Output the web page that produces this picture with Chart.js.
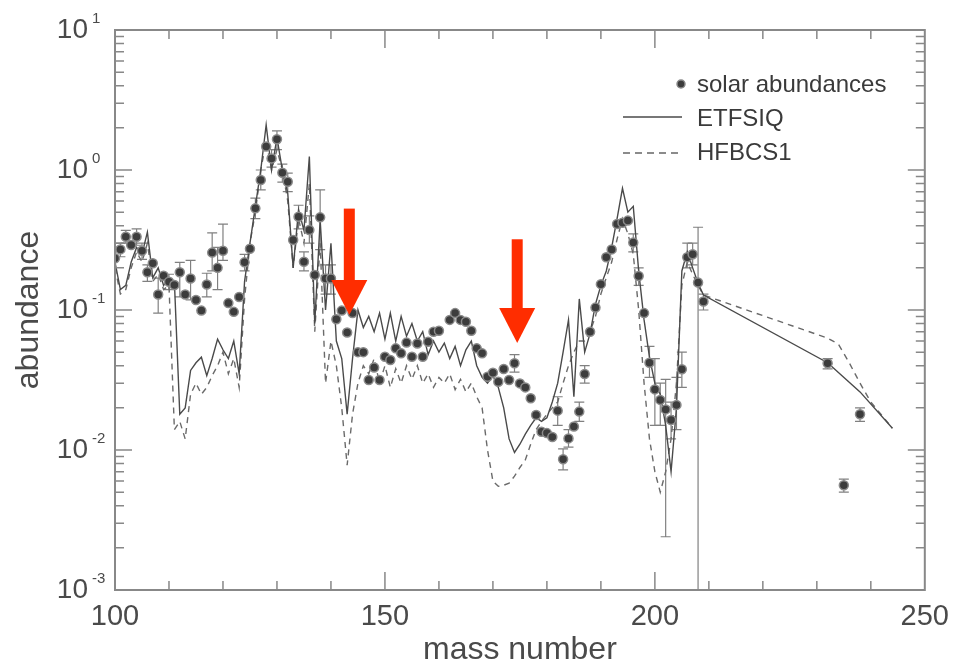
<!DOCTYPE html>
<html>
<head>
<meta charset="utf-8">
<script src="https://cdn.jsdelivr.net/npm/chart.js@4"></script>
<style>
  body { margin: 0; background: #fff; }
  canvas { display: block; }
</style>
</head>
<body>
<canvas id="chart" width="959" height="671"></canvas>
<script>
// solar r-abundances (points)
const massSolar = [100, 101, 102, 103, 104, 105, 106, 107, 108, 109, 110, 111, 112, 113, 114, 115, 116, 117, 118, 119,
    120, 121, 122, 123, 124, 125, 126, 127, 128, 129, 130, 131, 132, 133, 134, 135, 136, 137, 138, 139,
    140, 141, 142, 143, 144, 145, 146, 147, 148, 149, 150, 151, 152, 153, 154, 155, 156, 157, 158, 159,
    160, 162, 163, 164, 165, 166, 167, 168, 169, 170, 171, 172, 173, 174, 175, 176, 177, 178, 179, 180,
    181, 182, 183, 184, 185, 186, 187, 188, 189, 190, 191, 192, 193, 194, 195, 196, 197, 198, 199, 200,
    201, 202, 203, 204, 205, 206, 207, 208, 209, 232, 235, 238];
const solar = [0.234, 0.271, 0.334, 0.291, 0.334, 0.265, 0.186, 0.216, 0.129, 0.176, 0.159, 0.151, 0.186, 0.129, 0.168, 0.118, 0.099, 0.152, 0.257, 0.2,
    0.265, 0.112, 0.097, 0.124, 0.219, 0.274, 0.532, 0.849, 1.47, 1.21, 1.66, 0.956, 0.825, 0.316, 0.464, 0.221, 0.373, 0.178, 0.459, 0.168,
    0.168, 0.086, 0.099, 0.069, 0.095, 0.05, 0.05, 0.0316, 0.0388, 0.0316, 0.0464, 0.044, 0.0532, 0.049, 0.0585, 0.0464, 0.0577, 0.0464, 0.0594, 0.07,
    0.071, 0.085, 0.095, 0.085, 0.0825, 0.071, 0.0532, 0.049, 0.0334, 0.0357, 0.0307, 0.0379, 0.0316, 0.0416, 0.0299, 0.028, 0.0234, 0.0178, 0.0135, 0.0132,
    0.0124, 0.0191, 0.0086, 0.0121, 0.0147, 0.0188, 0.0349, 0.07, 0.104, 0.153, 0.238, 0.271, 0.411, 0.42, 0.435, 0.303, 0.175, 0.095, 0.042, 0.0271,
    0.0228, 0.0195, 0.0164, 0.021, 0.0377, 0.238, 0.25, 0.157, 0.115, 0.0416, 0.0056, 0.018];

// error bars on the solar points
const errMass = [101, 102, 104, 105, 106, 108, 110, 112, 114, 117, 118, 119, 120, 124, 126, 127, 129, 130, 131, 132, 134, 135, 136, 138, 139, 140,
    174, 182, 183, 184, 186, 187, 196, 197, 199, 200, 201, 202, 203, 204, 205, 206, 207, 208, 209, 232, 235, 238];
const errLow  = [0.24, 0.3, 0.29, 0.23, 0.16, 0.095, 0.14, 0.124, 0.118, 0.124, 0.19, 0.14, 0.226, 0.19, 0.45, 0.72, 1.05, 1.4, 0.82, 0.7, 0.38, 0.19, 0.3, 0.27, 0.13, 0.13,
    0.036, 0.015, 0.0072, 0.0105, 0.016, 0.03, 0.26, 0.15, 0.033, 0.015, 0.015, 0.0024, 0.012, 0.014, 0.028, 0.2, 0.21, 0.0001, 0.1, 0.038, 0.005, 0.016];
const errHigh = [0.3, 0.37, 0.38, 0.3, 0.21, 0.169, 0.18, 0.219, 0.226, 0.183, 0.355, 0.28, 0.411, 0.25, 0.63, 1.0, 1.4, 1.9, 1.1, 0.95, 0.56, 0.26, 0.47, 0.72, 0.21, 0.21,
    0.048, 0.024, 0.0102, 0.014, 0.022, 0.04, 0.35, 0.2, 0.055, 0.045, 0.03, 0.032, 0.022, 0.033, 0.05, 0.3, 0.3, 0.39, 0.13, 0.045, 0.0062, 0.02];

// ETFSIQ (solid)
const massEtfsiq = [100, 101, 102, 103, 104, 105, 106, 107, 108, 109, 110, 111, 112, 113, 114, 115, 116, 117, 118, 119,
    120, 121, 122, 123, 124, 125, 126, 127, 128, 129, 130, 131, 132, 133, 134, 135, 136, 137, 138, 139,
    140, 141, 142, 143, 144, 145, 146, 147, 148, 149, 150, 151, 152, 153, 154, 155, 156, 157, 158, 159,
    160, 161, 162, 163, 164, 165, 166, 167, 168, 169, 170, 171, 172, 173, 174, 175, 176, 177, 178, 179,
    180, 181, 182, 183, 184, 185, 186, 187, 188, 189, 190, 191, 192, 193, 194, 195, 196, 197, 198, 199,
    200, 201, 202, 203, 204, 205, 206, 207, 208, 209, 232, 238, 244];
const etfsiq = [0.22, 0.14, 0.15, 0.22, 0.28, 0.25, 0.36, 0.17, 0.2, 0.15, 0.17, 0.16, 0.018, 0.02, 0.037, 0.042, 0.046, 0.034, 0.045, 0.062,
    0.052, 0.045, 0.06, 0.035, 0.16, 0.3, 0.55, 1.0, 2.1, 1.0, 1.7, 1.0, 0.68, 0.2, 0.52, 0.37, 1.25, 0.08, 0.44, 0.1,
    0.3, 0.06, 0.045, 0.018, 0.045, 0.1, 0.075, 0.09, 0.07, 0.095, 0.062, 0.095, 0.06, 0.09, 0.065, 0.08, 0.06, 0.07, 0.048, 0.06,
    0.05, 0.058, 0.045, 0.055, 0.04, 0.052, 0.06, 0.04, 0.033, 0.03, 0.034, 0.028, 0.02, 0.012, 0.0096, 0.011, 0.013, 0.015, 0.017, 0.016,
    0.017, 0.022, 0.03, 0.05, 0.085, 0.024, 0.12, 0.05, 0.068, 0.11, 0.15, 0.19, 0.28, 0.45, 0.74, 0.5, 0.55, 0.19, 0.085, 0.046,
    0.03, 0.025, 0.015, 0.007, 0.02, 0.19, 0.26, 0.2, 0.155, 0.128, 0.042, 0.026, 0.0143];

// HFBCS1 (dashed)
const massHfbcs = [100, 101, 102, 103, 104, 105, 106, 107, 108, 109, 110, 111, 112, 113, 114, 115, 116, 117, 118, 119,
    120, 121, 122, 123, 124, 125, 126, 127, 128, 129, 130, 131, 132, 133, 134, 135, 136, 137, 138, 139,
    140, 141, 142, 143, 144, 145, 146, 147, 148, 149, 150, 151, 152, 153, 154, 155, 156, 157, 158, 159,
    160, 161, 162, 163, 164, 165, 166, 167, 168, 169, 170, 171, 172, 173, 174, 175, 176, 177, 178, 179,
    180, 181, 182, 183, 184, 185, 186, 187, 188, 189, 190, 191, 192, 193, 194, 195, 196, 197, 198, 199,
    200, 201, 202, 203, 204, 205, 206, 207, 208, 209, 232, 234, 236, 238, 240, 244];
const hfbcs = [0.2, 0.13, 0.14, 0.2, 0.26, 0.22, 0.3, 0.16, 0.18, 0.14, 0.15, 0.014, 0.016, 0.012, 0.025, 0.03, 0.025, 0.028, 0.034, 0.04,
    0.05, 0.035, 0.045, 0.028, 0.12, 0.3, 0.5, 1.0, 1.6, 1.0, 1.4, 1.0, 0.6, 0.2, 0.45, 0.3, 0.8, 0.07, 0.3, 0.03,
    0.06, 0.04, 0.02, 0.0078, 0.018, 0.03, 0.04, 0.035, 0.045, 0.03, 0.04, 0.028, 0.038, 0.03, 0.04, 0.032, 0.04, 0.03, 0.035, 0.028,
    0.033, 0.03, 0.035, 0.027, 0.032, 0.026, 0.03, 0.024, 0.02, 0.01, 0.006, 0.0055, 0.0056, 0.0058, 0.0065, 0.0075, 0.0085, 0.011, 0.014, 0.016,
    0.018, 0.02, 0.022, 0.03, 0.04, 0.05, 0.06, 0.06, 0.07, 0.09, 0.13, 0.17, 0.22, 0.32, 0.45, 0.35, 0.25, 0.1, 0.03, 0.012,
    0.007, 0.005, 0.007, 0.012, 0.03, 0.15, 0.22, 0.18, 0.15, 0.128, 0.063, 0.057, 0.042, 0.03, 0.022, 0.0143];

// red arrows (annotation, in data units)
const arrowMass = [143.4, 174.5];
const arrowTop = [0.53, 0.32];
const arrowTip = [0.092, 0.058];

const font = "'Liberation Sans', Arial, sans-serif";
const textCol = "#4a4a4a";

function pts(xs, ys) {
    return xs.map((x, i) => ({ x: x, y: ys[i] }));
}

const errorBars = {
    id: "errorBars",
    beforeDatasetsDraw(chart) {
        const { ctx, chartArea: a, scales: { x, y } } = chart;
        ctx.save();
        ctx.beginPath();
        ctx.rect(a.left, a.top, a.right - a.left, a.bottom - a.top);
        ctx.clip();
        ctx.strokeStyle = "#808080";
        ctx.lineWidth = 1.2;
        errMass.forEach((m, i) => {
            const px = x.getPixelForValue(m);
            const lo = y.getPixelForValue(errLow[i]);
            const hi = y.getPixelForValue(errHigh[i]);
            ctx.beginPath();
            ctx.moveTo(px, lo); ctx.lineTo(px, hi);
            ctx.moveTo(px - 5, lo); ctx.lineTo(px + 5, lo);
            ctx.moveTo(px - 5, hi); ctx.lineTo(px + 5, hi);
            ctx.stroke();
        });
        ctx.restore();
    }
};

const frame = {
    id: "frame",
    afterDraw(chart) {
        const { ctx, chartArea: a, scales: { x, y } } = chart;
        ctx.save();
        // box
        ctx.strokeStyle = "#888";
        ctx.lineWidth = 2;
        ctx.strokeRect(a.left, a.top, a.right - a.left, a.bottom - a.top);
        ctx.lineWidth = 1.5;
        ctx.beginPath();
        // x ticks, inward on top and bottom
        for (let v = 110; v < 250; v += 10) {
            const px = x.getPixelForValue(v);
            const len = v % 50 === 0 ? 18 : 9;
            ctx.moveTo(px, a.bottom); ctx.lineTo(px, a.bottom - len);
            ctx.moveTo(px, a.top); ctx.lineTo(px, a.top + len);
        }
        // y ticks, inward on left and right
        for (let e = -3; e <= 0; e++) {
            for (let m = 1; m <= 9; m++) {
                const py = y.getPixelForValue(m * Math.pow(10, e));
                const len = m === 1 ? 17 : 9;
                ctx.moveTo(a.left, py); ctx.lineTo(a.left + len, py);
                ctx.moveTo(a.right, py); ctx.lineTo(a.right - len, py);
            }
        }
        ctx.stroke();

        // y labels 10^n
        ctx.fillStyle = textCol;
        for (let e = -3; e <= 1; e++) {
            const py = y.getPixelForValue(Math.pow(10, e));
            ctx.font = "28px " + font;
            ctx.textAlign = "right";
            ctx.textBaseline = "middle";
            ctx.fillText("10", 88, py);
            ctx.font = "15px " + font;
            ctx.textAlign = "left";
            ctx.fillText(e < 0 ? "-" + (-e) : String(e), 92, py - 11);
        }

        // legend
        ctx.textAlign = "left";
        ctx.textBaseline = "middle";
        ctx.font = "24px " + font;
        ctx.fillStyle = "#3c3c3c";
        ctx.strokeStyle = "#8a8a8a";
        ctx.beginPath();
        ctx.arc(681, 84, 4, 0, Math.PI * 2);
        ctx.fill(); ctx.stroke();
        ctx.fillStyle = "#3a3a3a";
        ctx.fillText("solar abundances", 697, 85);
        ctx.strokeStyle = "#4a4a4a";
        ctx.lineWidth = 1.5;
        ctx.beginPath(); ctx.moveTo(623, 117); ctx.lineTo(682, 117); ctx.stroke();
        ctx.fillText("ETFSIQ", 697, 119);
        ctx.strokeStyle = "#666";
        ctx.setLineDash([7, 5]);
        ctx.beginPath(); ctx.moveTo(623, 153); ctx.lineTo(682, 153); ctx.stroke();
        ctx.setLineDash([]);
        ctx.fillText("HFBCS1", 697, 153);

        // red arrows
        ctx.fillStyle = "#ff2d00";
        arrowMass.forEach((m, i) => {
            const px = x.getPixelForValue(m);
            const top = y.getPixelForValue(arrowTop[i]);
            const tip = y.getPixelForValue(arrowTip[i]);
            const head = 35;
            ctx.fillRect(px - 5.5, top, 11, tip - head - top + 1);
            ctx.beginPath();
            ctx.moveTo(px - 18, tip - head);
            ctx.lineTo(px + 18, tip - head);
            ctx.lineTo(px, tip);
            ctx.closePath();
            ctx.fill();
        });
        ctx.restore();
    }
};

new Chart(document.getElementById("chart"), {
    type: "scatter",
    data: {
        datasets: [
            {
                label: "solar abundances",
                data: pts(massSolar, solar),
                pointRadius: 4.5,
                pointBackgroundColor: "#3c3c3c",
                pointBorderColor: "#8a8a8a",
                pointBorderWidth: 1.5,
                order: 0
            },
            {
                label: "ETFSIQ",
                data: pts(massEtfsiq, etfsiq),
                showLine: true,
                borderColor: "#4a4a4a",
                borderWidth: 1.4,
                pointRadius: 0,
                order: 1
            },
            {
                label: "HFBCS1",
                data: pts(massHfbcs, hfbcs),
                showLine: true,
                borderColor: "#6a6a6a",
                borderDash: [6, 5],
                borderWidth: 1.4,
                pointRadius: 0,
                order: 2
            }
        ]
    },
    options: {
        responsive: false,
        animation: false,
        layout: { padding: { top: 30, right: 29, left: 0, bottom: 0 } },
        plugins: { legend: { display: false }, tooltip: { enabled: false } },
        scales: {
            x: {
                type: "linear",
                min: 100,
                max: 250,
                grid: { display: false, drawTicks: false },
                border: { display: false },
                ticks: {
                    stepSize: 50,
                    padding: 10,
                    color: textCol,
                    font: { family: "'Liberation Sans Narrow', " + font, size: 29 }
                },
                title: {
                    display: true,
                    text: "mass number",
                    color: textCol,
                    font: { family: font, size: 32 },
                    padding: { top: 0, bottom: 2 }
                },
                afterFit: s => { s.height = 81; }
            },
            y: {
                type: "logarithmic",
                min: 0.001,
                max: 10,
                grid: { display: false },
                border: { display: false },
                ticks: { display: false },
                title: {
                    display: true,
                    text: "abundance",
                    color: textCol,
                    font: { family: font, size: 32 },
                    padding: { top: 10, bottom: 0 }
                },
                afterFit: s => { s.width = 115; }
            }
        }
    },
    plugins: [errorBars, frame]
});
</script>
</body>
</html>
